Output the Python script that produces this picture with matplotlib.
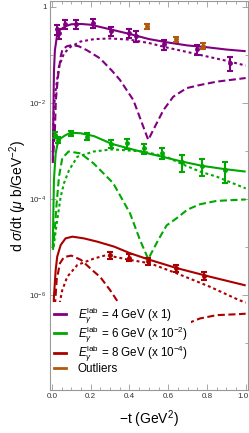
import numpy as np
import matplotlib
matplotlib.use("Agg")
import matplotlib.pyplot as plt
from matplotlib.lines import Line2D
from matplotlib.ticker import FixedLocator, NullFormatter
from matplotlib.transforms import ScaledTranslation

plt.rcParams['font.family'] = ['Liberation Sans', 'DejaVu Sans']
plt.rcParams['mathtext.fontset'] = 'custom'
plt.rcParams['mathtext.rm'] = 'Liberation Sans'
plt.rcParams['mathtext.it'] = 'Liberation Sans:italic'
plt.rcParams['mathtext.bf'] = 'Liberation Sans:bold'

# colours and scale factors of the three beam energies
col_4 = '#800080'
col_6 = '#00a800'
col_8 = '#aa0000'
col_out = '#b05a10'
scale_4 = 1.0
scale_6 = 1e-2
scale_8 = 1e-4

# ---- data points (unscaled) ----
t_4 = [0.024, 0.035, 0.066, 0.124, 0.212, 0.303, 0.396, 0.434, 0.578, 0.747, 0.919]
y_4 = [0.347, 0.282, 0.443, 0.443, 0.471, 0.316, 0.282, 0.251, 0.166, 0.132, 0.0676]
e_4 = [0.08, 0.065, 0.10, 0.09, 0.10, 0.07, 0.06, 0.06, 0.04, 0.03, 0.022]

t_out = [0.492, 0.639, 0.781]
y_out = [0.398, 0.215, 0.155]
e_out = [0.05, 0.027, 0.02]

t_6 = [0.015, 0.033, 0.097, 0.179, 0.303, 0.386, 0.475, 0.569, 0.670, 0.776, 0.895]
y_6 = [0.214, 0.170, 0.234, 0.200, 0.141, 0.145, 0.115, 0.091, 0.060, 0.049, 0.040]
e_6 = [0.03, 0.025, 0.027, 0.032, 0.026, 0.033, 0.028, 0.024, 0.023, 0.019, 0.018]

t_8 = [0.299, 0.398, 0.494, 0.639, 0.785]
y_8 = [0.0676, 0.0603, 0.0501, 0.0363, 0.0251]
e_8 = [0.011, 0.010, 0.008, 0.006, 0.0045]

# ---- model curves (unscaled) ----
# 4 GeV
t4_full = [0.004, 0.01, 0.015, 0.025, 0.04, 0.07, 0.1, 0.15, 0.2, 0.3, 0.4, 0.5, 0.6, 0.7, 0.8, 0.9, 1.0]
y4_full = [0.00063, 0.0447, 0.126, 0.240, 0.331, 0.398, 0.437, 0.443, 0.427, 0.343, 0.275, 0.215, 0.182,
           0.158, 0.145, 0.130, 0.120]
t4_dot = [0.006, 0.01, 0.019, 0.036, 0.062, 0.096, 0.148, 0.217, 0.3, 0.4, 0.5, 0.6, 0.7, 0.8, 0.9, 1.0]
y4_dot = [0.0025, 0.0079, 0.0186, 0.0575, 0.108, 0.148, 0.191, 0.214, 0.221, 0.209, 0.178, 0.141, 0.115,
          0.0933, 0.0759, 0.0603]
t4_dash = [0.004, 0.015, 0.02, 0.031, 0.045, 0.053, 0.075, 0.105, 0.14, 0.18, 0.248, 0.31, 0.351, 0.42,
           0.471, 0.497, 0.523, 0.575, 0.626, 0.695, 0.764, 0.85, 1.0]
y4_dash = [0.00056, 0.00275, 0.0115, 0.0355, 0.0933, 0.126, 0.151, 0.162, 0.151, 0.126, 0.0851, 0.0468,
           0.0302, 0.0115, 0.00324, 0.0017, 0.00275, 0.00708, 0.0135, 0.0204, 0.0237, 0.0278, 0.0331]

# 6 GeV
t6_full = [0.004, 0.01, 0.019, 0.027, 0.045, 0.07, 0.097, 0.148, 0.217, 0.308, 0.4, 0.475, 0.569, 0.67,
           0.776, 0.895, 1.0]
y6_full = [0.001, 0.0251, 0.0891, 0.133, 0.184, 0.214, 0.240, 0.234, 0.204, 0.141, 0.112, 0.0933, 0.0759,
           0.0603, 0.049, 0.0417, 0.0372]
t6_dot = [0.008, 0.027, 0.045, 0.062, 0.088, 0.131, 0.217, 0.31, 0.471, 0.59, 0.67, 0.764, 0.85, 1.0]
y6_dot = [0.001, 0.00363, 0.0112, 0.0214, 0.0398, 0.0759, 0.0977, 0.108, 0.0977, 0.0759, 0.0537, 0.0372,
          0.0292, 0.0166]
t6_dash = [0.005, 0.014, 0.024, 0.036, 0.053, 0.086, 0.148, 0.215, 0.316, 0.403, 0.454, 0.497, 0.549,
           0.592, 0.644, 0.7, 0.764, 0.85, 1.0]
y6_dash = [0.00087, 0.00224, 0.00813, 0.0288, 0.0708, 0.0977, 0.0891, 0.055, 0.0214, 0.00501, 0.00141,
           0.00056, 0.00141, 0.00282, 0.00398, 0.00603, 0.00776, 0.00912, 0.00977]

# 8 GeV
t8_full = [0.004, 0.01, 0.019, 0.027, 0.045, 0.07, 0.105, 0.165, 0.234, 0.32, 0.403, 0.506, 0.644, 0.816, 1.0]
y8_full = [0.00135, 0.00912, 0.0331, 0.0631, 0.110, 0.151, 0.164, 0.151, 0.129, 0.102, 0.0741, 0.0537,
           0.0363, 0.024, 0.0158]
t8_dot = [0.012, 0.02, 0.036, 0.053, 0.079, 0.131, 0.217, 0.28, 0.403, 0.506, 0.644, 0.816, 0.962, 1.0]
y8_dot = [0.00126, 0.00316, 0.00575, 0.0126, 0.024, 0.0422, 0.0575, 0.0676, 0.0537, 0.0457, 0.0282,
          0.0148, 0.00794, 0.00692]
t8_dash = [0.005, 0.014, 0.024, 0.041, 0.062, 0.1, 0.15, 0.213, 0.25, 0.30, 0.351, 0.40, 0.45, 0.50, 0.55,
           0.60, 0.65, 0.695, 0.764, 0.85, 0.962, 1.0]
y8_dash = [0.00126, 0.0049, 0.0204, 0.0457, 0.0617, 0.0661, 0.0537, 0.0316, 0.0234, 0.0126, 0.00617,
           0.00251, 0.000794, 0.000251, 0.000794, 0.00141, 0.00191, 0.00251, 0.00324, 0.0038, 0.00398, 0.00407]

legend_labels = [r'$E_\gamma^{\mathrm{lab}}$ = 4 GeV (x 1)',
                 r'$E_\gamma^{\mathrm{lab}}$ = 6 GeV (x 10$^{-2}$)',
                 r'$E_\gamma^{\mathrm{lab}}$ = 8 GeV (x 10$^{-4}$)',
                 'Outliers']

fig = plt.figure(figsize=(2.49, 4.33), dpi=100)
ax = fig.add_axes([50 / 249, 1 - 390 / 433, 198 / 249, 389 / 433])

lw = 1.5
dot_style = (0, (1.4, 1.4))
dash_style = (0, (3.4, 1.7))

sets = [
    (col_4, scale_4, t4_full, y4_full, t4_dot, y4_dot, t4_dash, y4_dash),
    (col_6, scale_6, t6_full, y6_full, t6_dot, y6_dot, t6_dash, y6_dash),
    (col_8, scale_8, t8_full, y8_full, t8_dot, y8_dot, t8_dash, y8_dash),
]
for c, s, tf, yf, td, yd, tds, yds in sets:
    ax.plot(tf, np.array(yf) * s, color=c, lw=lw, solid_capstyle='butt')
    ax.plot(td, np.array(yd) * s, color=c, lw=lw, ls=dot_style)
    ax.plot(tds, np.array(yds) * s, color=c, lw=lw, ls=dash_style)

points = [(t_4, y_4, e_4, scale_4, col_4), (t_6, y_6, e_6, scale_6, col_6),
          (t_8, y_8, e_8, scale_8, col_8), (t_out, y_out, e_out, scale_4, col_out)]
for t, y, e, s, c in points:
    ax.errorbar(t, np.array(y) * s, yerr=np.array(e) * s, fmt='o', ms=2.5, color=c,
                elinewidth=1.5, capsize=2.2, capthick=1.5)

ax.set_yscale('log')
ax.set_xlim(-0.0103, 1.012)
ax.set_ylim(10 ** -7.98, 10 ** 0.125)

ax.set_xticks([0.0, 0.2, 0.4, 0.6, 0.8, 1.0])
ax.set_xticklabels(['0.0', '0.2', '0.4', '0.6', '0.8', '1.0'])
ax.xaxis.set_minor_locator(FixedLocator(np.arange(0, 1.001, 0.05)))
ax.yaxis.set_major_locator(FixedLocator([1, 1e-2, 1e-4, 1e-6]))
ax.set_yticklabels(['1', r'$10^{-2}$', r'$10^{-4}$', r'$10^{-6}$'])
ax.yaxis.set_minor_locator(FixedLocator([1e-1, 1e-3, 1e-5, 1e-7]))
ax.yaxis.set_minor_formatter(NullFormatter())

ax.tick_params(which='both', direction='in', top=True, right=True, colors='#999999',
               labelcolor='#333333', labelsize=5.8, width=0.6, pad=2.5)
ax.tick_params(which='major', length=4)
ax.tick_params(which='minor', length=2)
for sp in ax.spines.values():
    sp.set_color('#999999')
    sp.set_linewidth(0.8)

# keep the last x tick label inside the canvas
last = ax.get_xticklabels()[-1]
last.set_transform(last.get_transform() + ScaledTranslation(-2.5 / 100, 0, fig.dpi_scale_trans))

ax.set_xlabel(r'$-$t (GeV$^2$)', fontsize=10, labelpad=6)
ax.set_ylabel(r'd $\sigma$/dt ($\mu$ b/GeV$^{-2}$)', fontsize=10, labelpad=0)

handles = [Line2D([], [], color=c, lw=2) for c in (col_4, col_6, col_8, col_out)]
leg = ax.legend(handles, legend_labels, loc='lower left', bbox_to_anchor=(0.005, 0.03),
                fontsize=8.4, frameon=True, framealpha=1, facecolor='white', edgecolor='none',
                handlelength=1.0, handletextpad=1.0, labelspacing=-0.12, borderpad=0.3,
                borderaxespad=0.0)

fig.savefig('out.png', dpi=100)
